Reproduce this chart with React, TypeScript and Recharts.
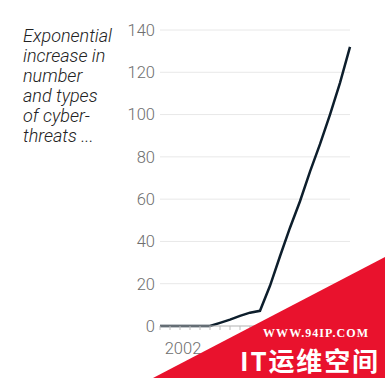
import { CartesianGrid, Line, LineChart, XAxis, YAxis } from "recharts";

const years = [
  2000, 2001, 2002, 2003, 2004, 2005, 2006, 2007, 2008, 2009,
  2010, 2011, 2012, 2013, 2014, 2015, 2016, 2017, 2018, 2019,
];
const threats = [
  0, 0, 0, 0, 0, 0, 1.5, 3, 4.8, 6.3,
  7.2, 19, 33, 46.5, 59, 73, 86, 100, 115, 132,
];
const yTicks = [0, 20, 40, 60, 80, 100, 120, 140];
const labelYears = [2002];
const captionLines = [
  "Exponential",
  "increase in",
  "number",
  "and types",
  "of cyber-",
  "threats ...",
];

const data = years.map((year, i) => ({ year, value: threats[i] }));

const tickFont = {
  fontFamily: "Roboto, sans-serif",
  fontWeight: 300,
  fontSize: 16.5,
  fill: "#6e6e6e",
};

export default function App() {
  return (
    <div style={{ position: "absolute", left: 0, top: 0, width: 385, height: 378, background: "#fff", overflow: "hidden" }}>
      <div
        style={{
          position: "absolute",
          left: 23,
          top: 26,
          fontFamily: "Roboto, sans-serif",
          fontStyle: "italic",
          fontWeight: 300,
          fontSize: 18,
          lineHeight: "20px",
          color: "#222",
        }}
      >
        {captionLines.map((l) => (
          <div key={l}>{l}</div>
        ))}
      </div>
      <LineChart
        width={385}
        height={378}
        data={data}
        margin={{ top: 30, right: 35, bottom: 22, left: 0 }}
      >
        <CartesianGrid vertical={false} stroke="#e8e8e8" />
        <XAxis
          dataKey="year"
          type="number"
          domain={[2000, 2019]}
          ticks={years}
          interval={0}
          height={30}
          tickSize={4}
          tickMargin={12}
          stroke="#bdbdbd"
          tick={tickFont}
          tickFormatter={(v: number) => (labelYears.includes(v) ? String(v) : "")}
          dx={3}
        />
        <YAxis
          width={160}
          domain={[0, 140]}
          ticks={yTicks}
          axisLine={false}
          tickLine={false}
          tickSize={0}
          tickMargin={5}
          tick={tickFont}
        />
        <Line
          type="linear"
          dataKey="value"
          stroke="#0d1e2c"
          strokeWidth={2.5}
          dot={false}
          isAnimationActive={false}
        />
      </LineChart>
      <svg
        width={385}
        height={378}
        style={{ position: "absolute", left: 0, top: 0, pointerEvents: "none" }}
      >
        <polygon points="153,378 385,257 385,378" fill="#e9122d" />
        <text
          x={263}
          y={337}
          fill="#fff"
          fontFamily="'Liberation Serif', serif"
          fontWeight="bold"
          fontSize={12}
          textLength={105}
        >
          WWW.94IP.COM
        </text>
        <text
          x={240}
          y={371}
          fill="#fff"
          fontFamily="'Noto Sans CJK SC', sans-serif"
          fontWeight="bold"
          fontSize={26}
          textLength={138}
          lengthAdjust="spacing"
        >
          IT运维空间
        </text>
      </svg>
    </div>
  );
}
